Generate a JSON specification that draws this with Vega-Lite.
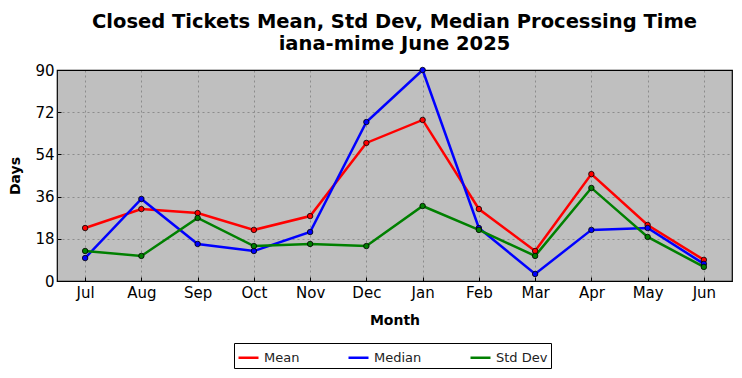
{
  "$schema": "https://vega.github.io/schema/vega-lite/v6.json",
  "width": 675,
  "height": 211,
  "autosize": {"type": "none"},
  "padding": {"left": 57, "top": 70, "right": 10, "bottom": 97},
  "background": "white",
  "title": {
    "text": ["Closed Tickets Mean, Std Dev, Median Processing Time", "iana-mime June 2025"],
    "anchor": "middle",
    "frame": "group",
    "font": "DejaVu Sans",
    "fontSize": 19.5,
    "fontWeight": "bold",
    "lineHeight": 22,
    "offset": 9,
    "color": "black"
  },
  "config": {
    "view": {"fill": "#bfbfbf", "stroke": "black", "strokeWidth": 1.2},
    "axis": {
      "labelFont": "DejaVu Sans",
      "titleFont": "DejaVu Sans",
      "labelColor": "black",
      "titleColor": "black",
      "domain": false,
      "tickColor": "black",
      "gridWidth": 1
    }
  },
  "data": {
    "values": [
      {"month": "Jul", "series": "Mean", "days": 22.6},
      {"month": "Aug", "series": "Mean", "days": 30.7},
      {"month": "Sep", "series": "Mean", "days": 29.0},
      {"month": "Oct", "series": "Mean", "days": 21.8},
      {"month": "Nov", "series": "Mean", "days": 27.7},
      {"month": "Dec", "series": "Mean", "days": 58.9},
      {"month": "Jan", "series": "Mean", "days": 68.7},
      {"month": "Feb", "series": "Mean", "days": 30.7},
      {"month": "Mar", "series": "Mean", "days": 12.8},
      {"month": "Apr", "series": "Mean", "days": 45.6},
      {"month": "May", "series": "Mean", "days": 23.9},
      {"month": "Jun", "series": "Mean", "days": 9.0},
      {"month": "Jul", "series": "Median", "days": 9.8},
      {"month": "Aug", "series": "Median", "days": 35.0},
      {"month": "Sep", "series": "Median", "days": 15.8},
      {"month": "Oct", "series": "Median", "days": 12.8},
      {"month": "Nov", "series": "Median", "days": 20.9},
      {"month": "Dec", "series": "Median", "days": 67.8},
      {"month": "Jan", "series": "Median", "days": 90.0},
      {"month": "Feb", "series": "Median", "days": 22.6},
      {"month": "Mar", "series": "Median", "days": 3.0},
      {"month": "Apr", "series": "Median", "days": 21.8},
      {"month": "May", "series": "Median", "days": 22.6},
      {"month": "Jun", "series": "Median", "days": 7.3},
      {"month": "Jul", "series": "Std Dev", "days": 12.8},
      {"month": "Aug", "series": "Std Dev", "days": 10.7},
      {"month": "Sep", "series": "Std Dev", "days": 26.9},
      {"month": "Oct", "series": "Std Dev", "days": 14.9},
      {"month": "Nov", "series": "Std Dev", "days": 15.8},
      {"month": "Dec", "series": "Std Dev", "days": 14.9},
      {"month": "Jan", "series": "Std Dev", "days": 32.0},
      {"month": "Feb", "series": "Std Dev", "days": 21.8},
      {"month": "Mar", "series": "Std Dev", "days": 10.7},
      {"month": "Apr", "series": "Std Dev", "days": 39.7},
      {"month": "May", "series": "Std Dev", "days": 18.8},
      {"month": "Jun", "series": "Std Dev", "days": 6.0}
    ]
  },
  "encoding": {
    "x": {
      "field": "month",
      "type": "ordinal",
      "sort": ["Jul", "Aug", "Sep", "Oct", "Nov", "Dec", "Jan", "Feb", "Mar", "Apr", "May", "Jun"],
      "scale": {"type": "point", "padding": 0.5},
      "axis": {
        "title": "Month",
        "titleFontSize": 14,
        "titleFontWeight": "bold",
        "titlePadding": 13,
        "labelFontSize": 15,
        "labelAngle": 0,
        "labelPadding": 8,
        "tickSize": -4,
        "grid": true,
        "gridColor": "#808080",
        "gridDash": [2, 3],
        "gridOpacity": 0.8
      }
    },
    "y": {
      "field": "days",
      "type": "quantitative",
      "scale": {"domain": [0, 90], "nice": false, "zero": true},
      "axis": {
        "title": "Days",
        "titleFontSize": 14,
        "titleFontWeight": "bold",
        "titlePadding": 12,
        "values": [0, 18, 36, 54, 72, 90],
        "labelFontSize": 15,
        "labelPadding": 7,
        "tickSize": -4,
        "grid": true,
        "gridColor": {"condition": {"test": "datum.value >= 90 || datum.value <= 0", "value": "black"}, "value": "#808080"},
        "gridDash": {"condition": {"test": "datum.value >= 90 || datum.value <= 0", "value": []}, "value": [2, 3]},
        "gridOpacity": {"condition": {"test": "datum.value >= 90 || datum.value <= 0", "value": 1}, "value": 0.8}
      }
    },
    "color": {
      "field": "series",
      "type": "nominal",
      "scale": {"domain": ["Mean", "Median", "Std Dev"], "range": ["#ff0000", "#0000ff", "#008000"]},
      "legend": {
        "title": null,
        "orient": "none",
        "legendX": 177,
        "legendY": 273,
        "direction": "horizontal",
        "columns": 3,
        "symbolType": "stroke",
        "symbolStrokeWidth": 2.5,
        "symbolSize": 400,
        "labelFont": "DejaVu Sans",
        "labelFontSize": 13,
        "labelColor": "#222222",
        "columnPadding": 43,
        "strokeColor": "black",
        "padding": 3,
        "fillColor": "white"
      }
    }
  },
  "layer": [
    {"mark": {"type": "line", "strokeWidth": 2.5}},
    {"mark": {"type": "point", "filled": true, "size": 30, "stroke": "black", "strokeWidth": 0.8, "opacity": 1}}
  ]
}
